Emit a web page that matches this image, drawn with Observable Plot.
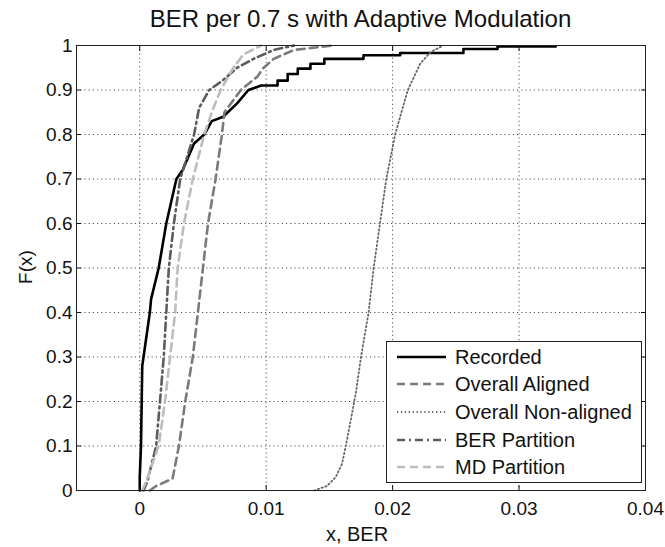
<!DOCTYPE html>
<html><head><meta charset="utf-8">
<script src="https://cdn.jsdelivr.net/npm/d3@7"></script>
<script src="https://cdn.jsdelivr.net/npm/@observablehq/plot@0.6"></script>
<style>
body{margin:0;background:#fff;font-family:"Liberation Sans",Arial,sans-serif;}
#wrap{position:relative;width:665px;height:547px;overflow:hidden;}
.t{position:absolute;white-space:nowrap;color:#111;line-height:1;}
</style></head><body><div id="wrap"></div>
<script>
const titleText = "BER per 0.7 s with Adaptive Modulation";
const xLabel = "x, BER";
const yLabel = "F(x)";
const xTicks = [0, 0.01, 0.02, 0.03, 0.04];
const yTicks = [0, 0.1, 0.2, 0.3, 0.4, 0.5, 0.6, 0.7, 0.8, 0.9, 1];
const seriesNames = ["Recorded", "Overall Aligned", "Overall Non-aligned", "BER Partition", "MD Partition"];

const recordedX = [0,0,0.0001,0.0002,0.0003,0.0008,0.0009,0.0015,0.0021,0.0029,0.0034,0.0043,0.0051,0.0057,0.0066,0.0077,0.0086,0.0096,0.0109,0.0109,0.0117,0.0117,0.0125,0.0125,0.0135,0.0135,0.0146,0.0146,0.0177,0.0177,0.0206,0.0206,0.0256,0.0256,0.0283,0.0283,0.0329];
const recordedY = [0,0.03,0.1,0.28,0.3,0.4,0.43,0.5,0.6,0.7,0.72,0.78,0.8,0.83,0.84,0.87,0.9,0.91,0.91,0.921,0.921,0.936,0.936,0.948,0.948,0.959,0.959,0.97,0.97,0.978,0.978,0.983,0.983,0.992,0.992,0.998,0.998];

const alignedX = [0.0008,0.0013,0.0026,0.0031,0.0036,0.0042,0.0046,0.005,0.0054,0.006,0.0065,0.0067,0.008,0.0093,0.0098,0.0106,0.0122,0.0153];
const alignedY = [0,0.01,0.027,0.1,0.2,0.3,0.4,0.5,0.6,0.7,0.8,0.85,0.9,0.93,0.95,0.97,0.99,1];

const nonAlignedX = [0.0138,0.0148,0.0155,0.016,0.0163,0.0167,0.0171,0.0175,0.0181,0.0185,0.019,0.0195,0.0202,0.0212,0.0222,0.023,0.024];
const nonAlignedY = [0,0.01,0.03,0.06,0.1,0.16,0.22,0.3,0.4,0.5,0.6,0.7,0.8,0.9,0.96,0.985,1];

const berPartX = [0.0003,0.0006,0.0013,0.0016,0.0019,0.0021,0.0023,0.0027,0.0032,0.0043,0.0047,0.0055,0.0065,0.0077,0.009,0.0106,0.0122];
const berPartY = [0,0.02,0.1,0.2,0.3,0.4,0.5,0.6,0.7,0.8,0.86,0.9,0.92,0.95,0.97,0.99,1];

const mdPartX = [0.0002,0.0005,0.0015,0.002,0.0024,0.0028,0.003,0.0035,0.0042,0.0051,0.0057,0.0064,0.0074,0.0082,0.0096];
const mdPartY = [0,0.02,0.1,0.2,0.3,0.4,0.5,0.6,0.7,0.8,0.85,0.9,0.95,0.98,1];

const styles = [
  {stroke:"#000", strokeWidth:2.6, dash:null},
  {stroke:"#7a7a7a", strokeWidth:2.6, dash:"8,5"},
  {stroke:"#666", strokeWidth:1.8, dash:"1.3,2.6"},
  {stroke:"#5c5c5c", strokeWidth:2.6, dash:"8,4,2,4"},
  {stroke:"#bdbdbd", strokeWidth:2.6, dash:"8,5"}
];
const seriesXY = [[recordedX,recordedY],[alignedX,alignedY],[nonAlignedX,nonAlignedY],[berPartX,berPartY],[mdPartX,mdPartY]];
const tables = seriesXY.map(([xs,ys]) => xs.map((x,i)=>({x, y: ys[i]})));

const gridStyle = {stroke:"#555", strokeOpacity:1, strokeWidth:1, strokeDasharray:"1.2,3"};
const plot = Plot.plot({
  width:665, height:547,
  marginTop:45, marginBottom:57, marginLeft:76, marginRight:20,
  style:{fontFamily:"'Liberation Sans', Arial, sans-serif", fontSize:"19px", color:"#111", background:"white"},
  x:{domain:[-0.005,0.04]},
  y:{domain:[0,1]},
  marks:[
    Plot.gridX(xTicks, gridStyle),
    Plot.gridY(yTicks, gridStyle),
    ...tables.map((t,i)=>Plot.line(t,{x:"x", y:"y", stroke:styles[i].stroke, strokeWidth:styles[i].strokeWidth, strokeDasharray:styles[i].dash})),
    Plot.axisX(xTicks,{anchor:"bottom", tickSize:-5, tickPadding:16, tickFormat:d=>String(d), label:null}),
    Plot.axisX(xTicks,{anchor:"top", tickSize:-5, tickFormat:()=>"", label:null}),
    Plot.axisY(yTicks,{anchor:"left", tickSize:-5, tickPadding:9, tickFormat:d=>String(d), label:null}),
    Plot.axisY(yTicks,{anchor:"right", tickSize:-5, tickFormat:()=>"", label:null}),
    Plot.frame({stroke:"#222", strokeWidth:1})
  ]
});
const wrap = document.getElementById("wrap");
plot.style.position = "absolute"; plot.style.left = "0"; plot.style.top = "0";
wrap.appendChild(plot);

function addText(txt, css){ const d=document.createElement("div"); d.className="t"; d.textContent=txt; Object.assign(d.style, css); wrap.appendChild(d); return d; }
addText(titleText, {left:"76px", width:"569px", textAlign:"center", top:"7px", fontSize:"24px"});
addText(xLabel, {left:"76px", width:"562px", textAlign:"center", top:"524px", fontSize:"20px"});
addText(yLabel, {left:"25px", top:"267px", fontSize:"19px", transform:"translate(-50%,-50%) rotate(-90deg)"});

// legend
const lg = d3.select(wrap).append("svg")
  .attr("width",256).attr("height",142)
  .style("position","absolute").style("left","386px").style("top","341px");
lg.append("rect").attr("x",0.5).attr("y",0.5).attr("width",255).attr("height",141).attr("fill","white").attr("stroke","#222");
const rowY = [16, 43, 71, 99, 126];
seriesNames.forEach((name,i)=>{
  lg.append("line").attr("x1",11).attr("x2",60).attr("y1",rowY[i]).attr("y2",rowY[i])
    .attr("stroke",styles[i].stroke).attr("stroke-width",styles[i].strokeWidth)
    .attr("stroke-dasharray",styles[i].dash);
  lg.append("text").attr("x",69).attr("y",rowY[i]).attr("dy","0.36em")
    .attr("font-family","'Liberation Sans', Arial, sans-serif").attr("font-size",20).attr("fill","#111").text(name);
});
</script></body></html>
